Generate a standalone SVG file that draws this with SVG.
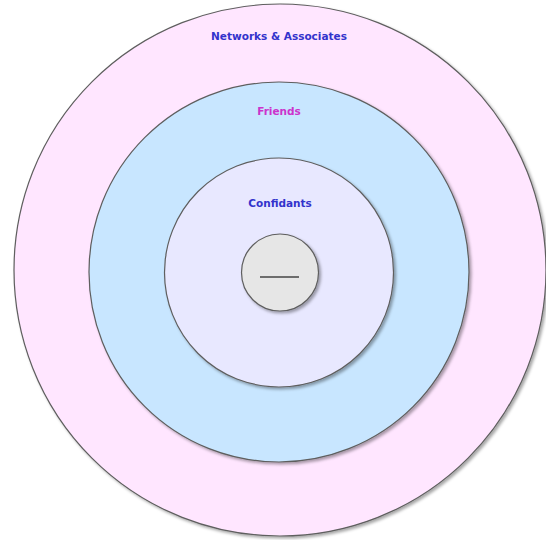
<svg xmlns="http://www.w3.org/2000/svg" width="546" height="540" viewBox="0 0 546 540">
<defs>
<filter id="sh" x="-10%" y="-10%" width="120%" height="120%">
<feDropShadow dx="2" dy="2" stdDeviation="1.5" flood-color="#000" flood-opacity="0.35"/>
</filter>
</defs>
<style>
.ring{stroke:#5e5e5e;stroke-width:1.2;filter:url(#sh)}
.lbl{font-family:"DejaVu Sans",sans-serif;font-weight:bold;font-size:10.5px;text-anchor:middle}
</style>
<rect width="546" height="540" fill="#ffffff"/>
<g id="networks">
<circle class="ring" cx="280" cy="270" r="266" fill="#ffe6ff"/>
<text class="lbl" x="279" y="40" fill="#3333cc">Networks &amp; Associates</text>
</g>
<g id="friends">
<circle class="ring" cx="279" cy="272" r="190" fill="#c8e6ff"/>
<text class="lbl" x="279" y="115" fill="#cc33cc">Friends</text>
</g>
<g id="confidants">
<circle class="ring" cx="279" cy="272.5" r="114.5" fill="#e8e8ff"/>
<text class="lbl" x="280" y="207" fill="#3333cc">Confidants</text>
</g>
<g id="self">
<circle class="ring" cx="280" cy="272.5" r="38.5" fill="#e6e6e6"/>
<line x1="260" y1="277" x2="299" y2="277" stroke="#444444" stroke-width="1.5"/>
</g>
<g id="connectors"></g>
</svg>
